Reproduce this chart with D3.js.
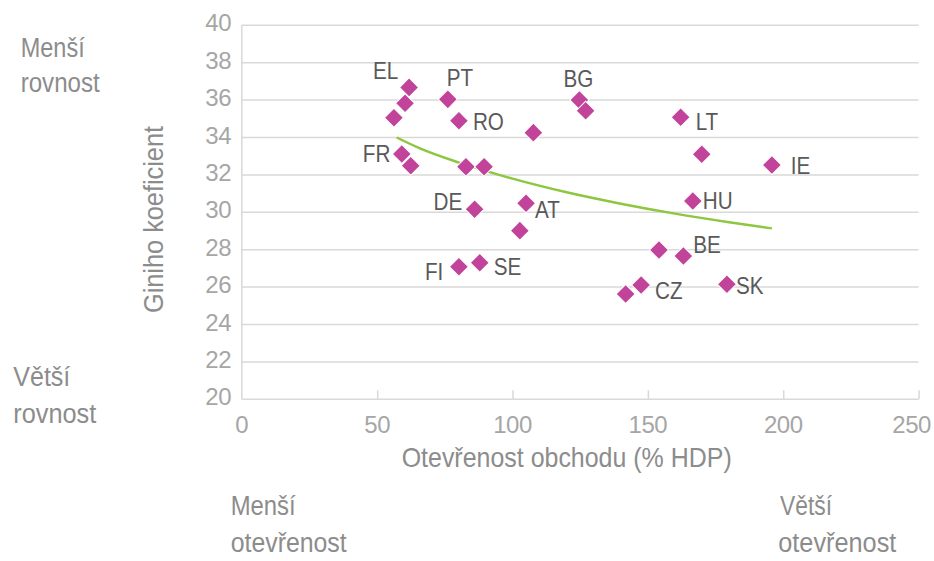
<!DOCTYPE html>
<html>
<head>
<meta charset="utf-8">
<script src="https://cdn.jsdelivr.net/npm/d3@7"></script>
<style>
  html, body { margin: 0; padding: 0; background: #ffffff; }
  svg { display: block; }
</style>
</head>
<body>
<svg id="chart" width="934" height="561"></svg>
<script>
// ---- Data ----
const tradeOpenness = [61.8, 60.3, 56.2, 59.1, 62.4, 76.1, 80.2, 107.7, 82.8, 89.5, 86.0, 105.0, 102.7, 80.2, 87.9, 124.7, 127.0, 162.1, 169.9, 195.8, 166.6, 154.1, 163.1, 147.5, 141.8, 179.2];
const giniCoef      = [36.68, 35.83, 35.06, 33.12, 32.49, 36.04, 34.90, 34.26, 32.44, 32.44, 30.16, 30.48, 29.02, 27.09, 27.30, 36.01, 35.43, 35.08, 33.10, 32.53, 30.60, 27.98, 27.66, 26.11, 25.63, 26.15];
const pointLabels   = ["EL", "", "", "FR", "", "PT", "RO", "", "", "", "DE", "AT", "", "FI", "SE", "BG", "", "LT", "", "IE", "HU", "", "BE", "CZ", "", "SK"];
const trendX = [57.2, 65.8, 80, 100, 120, 140, 160, 180, 195.8];
const trendY = [34.0, 33.42, 32.67, 31.8, 31.07, 30.46, 29.93, 29.47, 29.14];
const xTicks = [0, 50, 100, 150, 200, 250];
const yTicks = [20, 22, 24, 26, 28, 30, 32, 34, 36, 38, 40];
const xTitle = "Otevřenost obchodu (% HDP)";
const yTitle = "Giniho koeficient";

// ---- Layout (not data) ----
const labelOffset = {
  EL: [-36, -8], PT: [-1, -13], RO: [14, 9], FR: [-39, 8], DE: [-41, 1],
  AT: [9, 15], FI: [-34, 13], SE: [14, 12], BG: [-16, -13], LT: [15, 13],
  IE: [19, 9], HU: [10, 8], BE: [10, -3], CZ: [14, 14], SK: [9, 10]
};

const svg = d3.select("#chart");
const x = d3.scaleLinear().domain([0, 250]).range([241.8, 918.6]);
const y = d3.scaleLinear().domain([20, 40]).range([399.3, 25.3]);

const gridColor = "#d9d9d9";
const tickFont = "'Liberation Sans', Arial, sans-serif";

// horizontal gridlines
svg.append("g").selectAll("line").data(yTicks).join("line")
  .attr("x1", x(0)).attr("x2", x(250))
  .attr("y1", d => y(d)).attr("y2", d => y(d))
  .attr("stroke", gridColor).attr("stroke-width", 1.5);

// y axis line
svg.append("line")
  .attr("x1", x(0)).attr("x2", x(0)).attr("y1", y(40)).attr("y2", y(20))
  .attr("stroke", gridColor).attr("stroke-width", 1.5);

// x axis with inward ticks
const xAxis = d3.axisTop(x).tickValues(xTicks).tickSize(9).tickFormat("");
const gx = svg.append("g").attr("transform", `translate(0,${y(20)})`).call(xAxis);
gx.select(".domain").remove();
gx.selectAll(".tick line").attr("stroke", gridColor).attr("stroke-width", 1.5);
gx.selectAll(".tick").filter(d => d === 0).remove();

// x tick labels
const xl = svg.append("g").selectAll("text").data(xTicks).join("text")
  .attr("x", d => x(d)).attr("y", 433)
  .attr("text-anchor", "middle")
  .attr("font-family", tickFont).attr("font-size", 24)
  .attr("letter-spacing", -0.5)
  .attr("fill", "#a6a6a6")
  .text(d => d);
// keep the last label inside the page
xl.each(function() {
  const b = this.getBBox();
  const over = b.x + b.width - 931;
  if (over > 0) d3.select(this).attr("x", +d3.select(this).attr("x") - over);
});

// y tick labels
svg.append("g").selectAll("text").data(yTicks).join("text")
  .attr("x", 231).attr("y", d => y(d) + 6)
  .attr("text-anchor", "end")
  .attr("font-family", tickFont).attr("font-size", 24)
  .attr("letter-spacing", -0.5)
  .attr("fill", "#a6a6a6")
  .text(d => d);

// axis titles
svg.append("text")
  .attr("x", 401.7).attr("y", 467)
  .attr("textLength", 330).attr("lengthAdjust", "spacingAndGlyphs")
  .attr("font-family", tickFont).attr("font-size", 28)
  .attr("fill", "#8c8c8c")
  .text(xTitle);

svg.append("text")
  .attr("transform", "translate(163,313) rotate(-90)")
  .attr("textLength", 187).attr("lengthAdjust", "spacingAndGlyphs")
  .attr("font-family", tickFont).attr("font-size", 28)
  .attr("fill", "#8c8c8c")
  .text(yTitle);

// corner annotations
const notes = [
  { t: "Menší", x: 20.7, y: 57, w: 64 },
  { t: "rovnost", x: 20.7, y: 92, w: 79 },
  { t: "Větší", x: 13.3, y: 386, w: 57 },
  { t: "rovnost", x: 13.3, y: 423, w: 83 },
  { t: "Menší", x: 230.7, y: 515, w: 65 },
  { t: "otevřenost", x: 230.7, y: 552, w: 116 },
  { t: "Větší", x: 780, y: 515, w: 52 },
  { t: "otevřenost", x: 778.3, y: 552, w: 118 }
];
svg.append("g").selectAll("text").data(notes).join("text")
  .attr("x", d => d.x).attr("y", d => d.y)
  .attr("textLength", d => d.w).attr("lengthAdjust", "spacingAndGlyphs")
  .attr("font-family", tickFont).attr("font-size", 27)
  .attr("fill", "#8c8c8c")
  .text(d => d.t);

// trend line
const trend = trendX.map((v, i) => [v, trendY[i]]);
svg.append("path")
  .datum(trend)
  .attr("fill", "none")
  .attr("stroke", "#8dc63f")
  .attr("stroke-width", 2.5)
  .attr("d", d3.line().x(d => x(d[0])).y(d => y(d[1])).curve(d3.curveMonotoneX));

// points
const pts = tradeOpenness.map((v, i) => ({ x: v, y: giniCoef[i], label: pointLabels[i] }));
const diamond = d3.symbol().type(d3.symbolSquare).size(180);
svg.append("g").selectAll("path").data(pts).join("path")
  .attr("transform", d => `translate(${x(d.x)},${y(d.y)}) rotate(45)`)
  .attr("d", diamond)
  .attr("fill", "#c2449a")
  .attr("stroke", "#ffffff").attr("stroke-width", 1);

// labels (condensed like the reference face)
svg.append("g").selectAll("text").data(pts.filter(d => d.label)).join("text")
  .attr("x", d => x(d.x) + labelOffset[d.label][0])
  .attr("y", d => y(d.y) + labelOffset[d.label][1])
  .attr("font-family", tickFont)
  .attr("font-size", 24)
  .attr("fill", "#595959")
  .text(d => d.label)
  .each(function() {
    const w = this.getComputedTextLength();
    d3.select(this).attr("textLength", w * 0.86).attr("lengthAdjust", "spacingAndGlyphs");
  });
</script>
</body>
</html>
